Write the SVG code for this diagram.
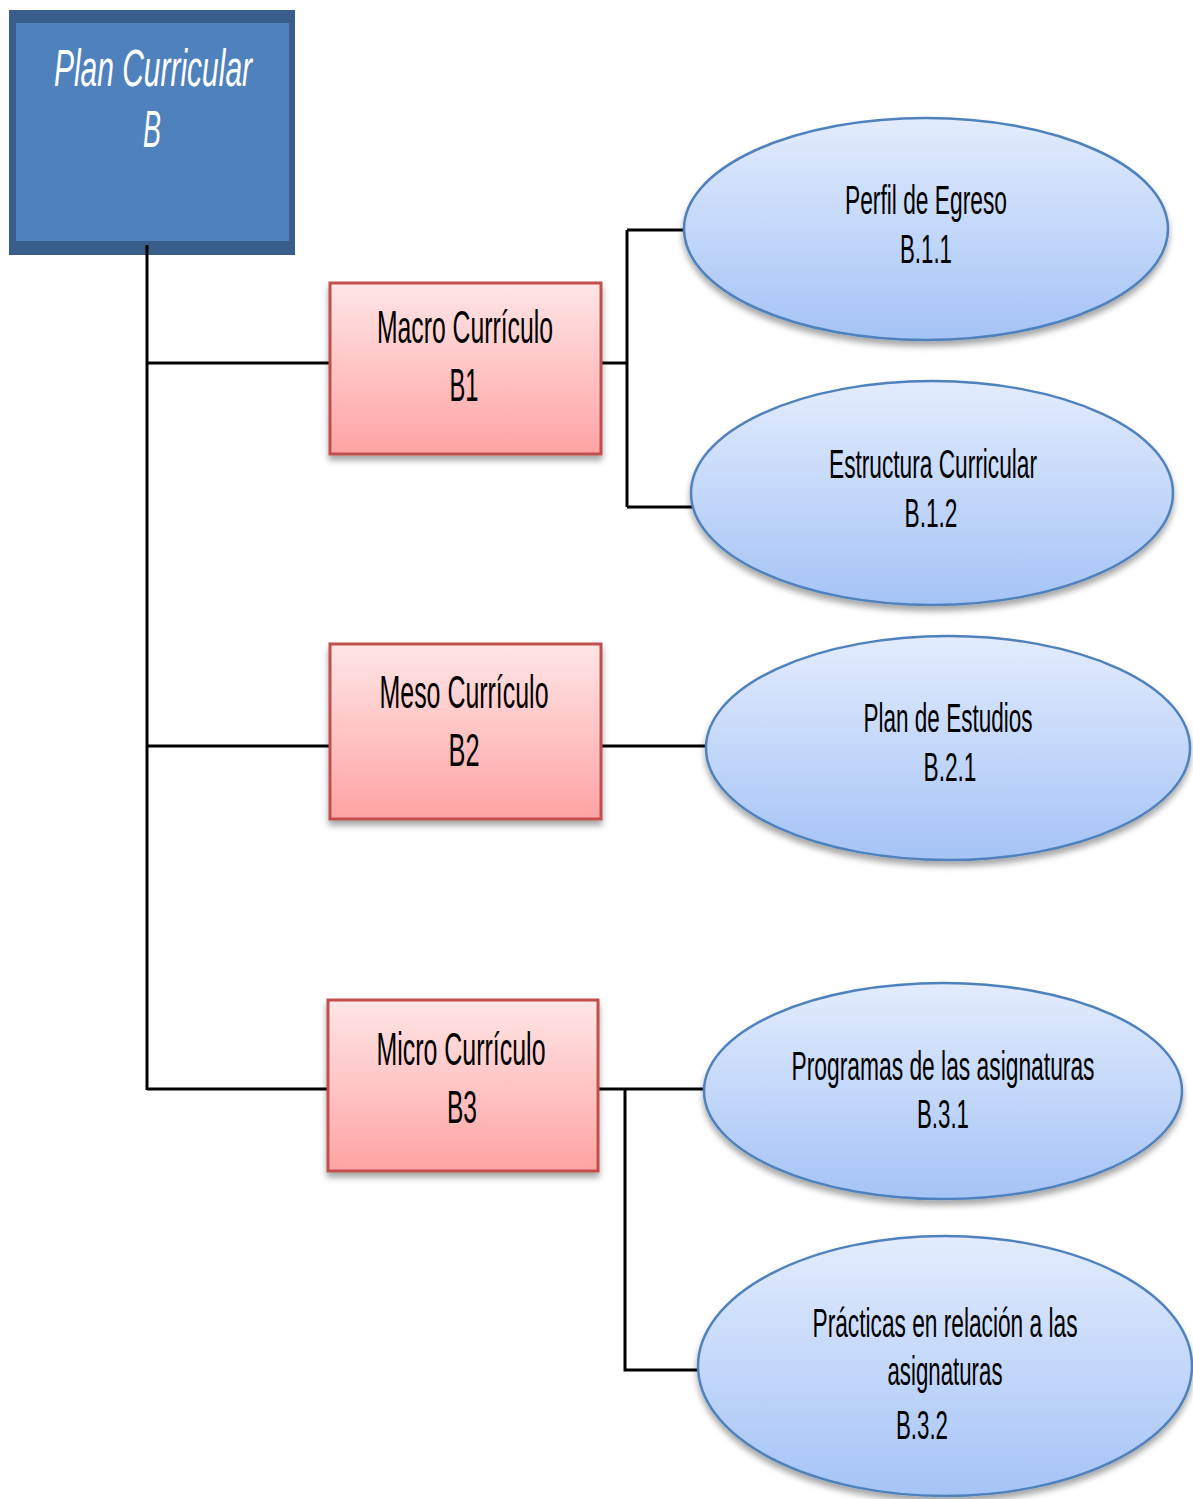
<svg xmlns="http://www.w3.org/2000/svg" width="1193" height="1499" viewBox="0 0 1193 1499">
<style>
.t{font-family:"Liberation Sans",Arial,sans-serif;fill:#000;text-anchor:middle}
.bt{font-size:46px}
.et{font-size:40px}
.rect{fill:url(#rg);stroke:#C0504D;stroke-width:3;filter:url(#sh)}
.ell{fill:url(#bg);stroke:#4F81BD;stroke-width:2.5;filter:url(#sh)}
.ln{stroke:#000;stroke-width:3;fill:none}
</style>
<defs>
<linearGradient id="rg" x1="0" y1="0" x2="0" y2="1">
<stop offset="0" stop-color="#FFE6E6"/>
<stop offset="1" stop-color="#FFA3A3"/>
</linearGradient>
<linearGradient id="bg" x1="0" y1="0" x2="0" y2="1">
<stop offset="0" stop-color="#E2ECFD"/>
<stop offset="1" stop-color="#A5C3F6"/>
</linearGradient>
<filter id="sh" x="-10%" y="-10%" width="120%" height="130%">
<feDropShadow dx="0" dy="5" stdDeviation="3" flood-color="#000" flood-opacity="0.35"/>
</filter>
</defs>
<g id="plan">
<rect x="9" y="10" width="286" height="245" fill="#3A5E8C"/>
<rect x="16" y="23" width="273" height="218" fill="#4F81BD"/>
<text x="153" y="86" font-family="Liberation Sans,Arial,sans-serif" font-style="italic" font-size="52" fill="#fff" text-anchor="middle" textLength="198" lengthAdjust="spacingAndGlyphs">Plan Curricular</text>
<text x="152" y="147" font-family="Liberation Sans,Arial,sans-serif" font-style="italic" font-size="52" fill="#fff" text-anchor="middle" textLength="18" lengthAdjust="spacingAndGlyphs">B</text>
</g>
<g id="connectors">
<path class="ln" d="M147,245 V1090"/>
<path class="ln" d="M147,363 H330 M147,746 H330 M147,1089 H328"/>
<path class="ln" d="M601,363 H627 M627,230 V507 M627,230 H686 M627,507 H692"/>
<path class="ln" d="M601,746 H706"/>
<path class="ln" d="M598,1089 H706 M625,1089 V1370 H698"/>
</g>
<g id="macro">
<rect class="rect" x="330" y="283" width="271" height="171"/>
<text class="t bt" x="465" y="343" textLength="176" lengthAdjust="spacingAndGlyphs">Macro Currículo</text>
<text class="t bt" x="464" y="401" textLength="29" lengthAdjust="spacingAndGlyphs">B1</text>
</g>
<g id="meso">
<rect class="rect" x="330" y="644" width="271" height="175"/>
<text class="t bt" x="464" y="708" textLength="169" lengthAdjust="spacingAndGlyphs">Meso Currículo</text>
<text class="t bt" x="464" y="766" textLength="31" lengthAdjust="spacingAndGlyphs">B2</text>
</g>
<g id="micro">
<rect class="rect" x="328" y="1000" width="270" height="171"/>
<text class="t bt" x="461" y="1065" textLength="169" lengthAdjust="spacingAndGlyphs">Micro Currículo</text>
<text class="t bt" x="462" y="1123" textLength="30" lengthAdjust="spacingAndGlyphs">B3</text>
</g>
<g id="perfil">
<ellipse class="ell" cx="926" cy="229" rx="242" ry="111"/>
<text class="t et" x="926" y="214" textLength="162" lengthAdjust="spacingAndGlyphs">Perfil de Egreso</text>
<text class="t et" x="926" y="263" textLength="52" lengthAdjust="spacingAndGlyphs">B.1.1</text>
</g>
<g id="estructura">
<ellipse class="ell" cx="932" cy="493" rx="241" ry="112"/>
<text class="t et" x="933" y="478" textLength="208" lengthAdjust="spacingAndGlyphs">Estructura Curricular</text>
<text class="t et" x="931" y="527" textLength="53" lengthAdjust="spacingAndGlyphs">B.1.2</text>
</g>
<g id="estudios">
<ellipse class="ell" cx="948" cy="748" rx="242" ry="112"/>
<text class="t et" x="948" y="732" textLength="169" lengthAdjust="spacingAndGlyphs">Plan de Estudios</text>
<text class="t et" x="950" y="781" textLength="53" lengthAdjust="spacingAndGlyphs">B.2.1</text>
</g>
<g id="programas">
<ellipse class="ell" cx="943" cy="1091" rx="239" ry="108"/>
<text class="t et" x="943" y="1080" textLength="303" lengthAdjust="spacingAndGlyphs">Programas de las asignaturas</text>
<text class="t et" x="943" y="1128" textLength="52" lengthAdjust="spacingAndGlyphs">B.3.1</text>
</g>
<g id="practicas">
<ellipse class="ell" cx="945" cy="1366" rx="247" ry="130"/>
<text class="t et" x="945" y="1337" textLength="265" lengthAdjust="spacingAndGlyphs">Prácticas en relación a las</text>
<text class="t et" x="945" y="1385" textLength="115" lengthAdjust="spacingAndGlyphs">asignaturas</text>
<text class="t et" x="922" y="1439" textLength="52" lengthAdjust="spacingAndGlyphs">B.3.2</text>
</g>
</svg>
